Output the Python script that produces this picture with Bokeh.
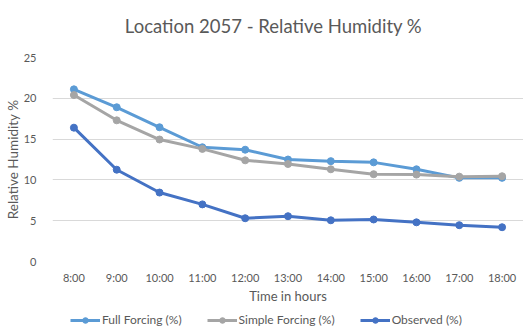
from bokeh.plotting import figure
from bokeh.layouts import column
from bokeh.models import FactorRange, Range1d, FixedTicker, Legend, LegendItem, Label
from bokeh.embed import file_html
from bokeh.resources import INLINE

hours = ["8:00", "9:00", "10:00", "11:00", "12:00", "13:00", "14:00", "15:00", "16:00", "17:00", "18:00"]
full_forcing = [21.1, 18.9, 16.45, 14.0, 13.7, 12.5, 12.3, 12.15, 11.3, 10.25, 10.25]
simple_forcing = [20.4, 17.3, 14.95, 13.8, 12.4, 11.95, 11.3, 10.7, 10.65, 10.4, 10.45]
observed = [16.4, 11.25, 8.45, 7.0, 5.3, 5.55, 5.05, 5.15, 4.8, 4.45, 4.2]
y_ticks = [0, 5, 10, 15, 20, 25]
series_names = ["Full Forcing (%)", "Simple Forcing (%)", "Observed (%)"]
series_colors = ["#5B9BD5", "#A5A5A5", "#4472C4"]
title_text = "Location 2057 - Relative Humidity %"

FONT = "Lato"
TXT = "#595959"


def strip(height):
    f = figure(width=523, height=height, x_range=Range1d(0, 1), y_range=Range1d(0, 1),
               x_axis_type=None, y_axis_type=None, output_backend="svg",
               toolbar_location=None, min_border=0)
    f.outline_line_color = None
    f.grid.visible = False
    return f


# title strip
top = strip(40)
top.add_layout(Label(x=221, y=15, x_units="screen", y_units="screen", text=title_text,
                     text_align="center", text_baseline="middle", text_font=FONT,
                     text_font_size="18.5px", text_color=TXT))

# main chart
p = figure(width=523, height=270, x_range=FactorRange(*hours), y_range=Range1d(0, 25),
           output_backend="svg", toolbar_location=None,
           min_border_left=52, min_border_right=0, min_border_top=17, min_border_bottom=49)
p.outline_line_color = None
p.background_fill_color = "white"
p.border_fill_color = "white"

p.xgrid.grid_line_color = None
p.ygrid.grid_line_color = "#D9D9D9"
p.ygrid.grid_line_width = 1
p.yaxis.ticker = FixedTicker(ticks=y_ticks)

for ax in (p.xaxis[0], p.yaxis[0]):
    ax.axis_line_color = None
    ax.major_tick_line_color = None
    ax.minor_tick_line_color = None
    ax.major_label_text_font = FONT
    ax.major_label_text_font_size = "11px"
    ax.major_label_text_color = TXT
    ax.axis_label_text_font = FONT
    ax.axis_label_text_font_size = "13px"
    ax.axis_label_text_font_style = "normal"
    ax.axis_label_text_color = TXT

p.xaxis.axis_label = "Time in hours"
p.xaxis.major_label_standoff = 3
p.xaxis.axis_label_standoff = 1
p.yaxis.axis_label = "Relative Humidity %"
p.yaxis.axis_label_text_font_size = "13.5px"
p.yaxis.major_label_standoff = 10
p.yaxis.axis_label_standoff = 0

for vals, col in zip([full_forcing, simple_forcing, observed], series_colors):
    p.line(x=hours, y=vals, line_color=col, line_width=3)
    p.scatter(x=hours, y=vals, size=7, fill_color=col, line_color=col)

# legend strip below the chart
leg = strip(19)
items = []
for name, col in zip(series_names, series_colors):
    l = leg.line(x=[5, 6], y=[5, 6], line_color=col, line_width=3)
    s = leg.scatter(x=[5], y=[5], size=7, fill_color=col, line_color=col)
    items.append(LegendItem(label=name, renderers=[l, s]))

legend = Legend(items=items, orientation="horizontal", location=(18, 2),
                label_text_font=FONT, label_text_font_size="12px", label_text_color=TXT,
                glyph_width=30, glyph_height=14, label_height=14, label_standoff=2,
                spacing=25, padding=0, margin=0, border_line_color=None,
                background_fill_alpha=0)
leg.add_layout(legend, "center")

layout = column(top, p, leg, spacing=0)
open("out.html", "w").write(file_html(layout, INLINE))
